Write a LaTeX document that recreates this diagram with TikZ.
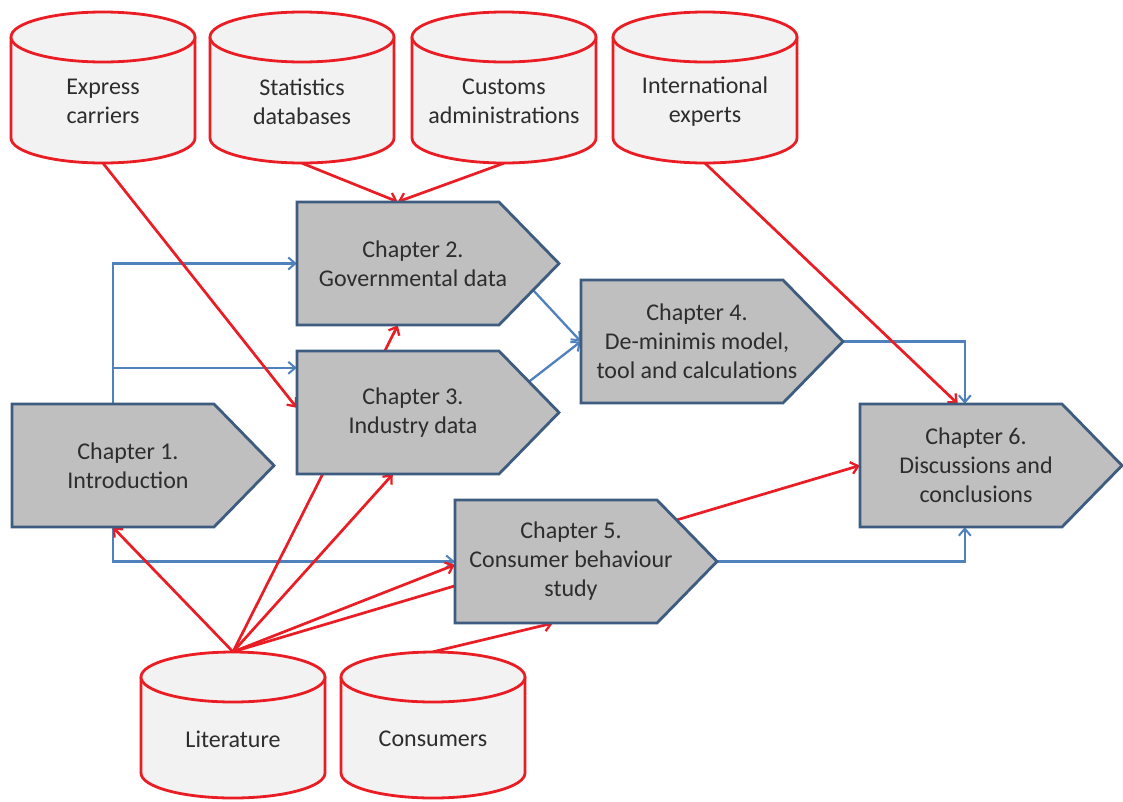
\documentclass[tikz,border=0pt]{standalone}
\usepackage{fontspec}
\setmainfont{Carlito}
\usetikzlibrary{arrows.meta,calc}
\definecolor{redline}{RGB}{234,28,36}
\definecolor{blueline}{RGB}{79,129,189}
\definecolor{chapborder}{RGB}{62,92,128}
\definecolor{chapfill}{RGB}{191,191,191}
\definecolor{cylfillc}{RGB}{242,242,242}
\definecolor{txt}{RGB}{45,45,45}
\tikzset{
  redarrow/.style={draw=redline, line width=2.7pt, -{Straight Barb[length=7pt,width=12pt,line width=2.3pt]}},
  bluearrow/.style={draw=blueline, line width=2.3pt, -{Straight Barb[length=7pt,width=12pt,line width=2pt]}},
  chapshape/.style={draw=chapborder, fill=chapfill, line width=2.8pt},
  chapbox/.style={inner sep=0pt, minimum width=262pt, minimum height=123pt, draw=none},
  chaptext/.style={align=center, text=txt, font=\fontsize{24}{29}\selectfont, inner sep=0pt},
  cylfill/.style={fill=cylfillc},
  cylline/.style={draw=redline, line width=2.8pt},
  cylbox/.style={inner sep=0pt, minimum width=184pt, draw=none},
  cyltext/.style={align=center, text=txt, font=\fontsize{24}{29}\selectfont, inner sep=0pt},
}
\newcommand\dbcyl[5]{%
  \fill[cylfill] (#2-92,#3+25) rectangle (#2+92,#3+#4-25);
  \fill[cylfill] (#2,#3+#4-25) ellipse [x radius=92pt, y radius=25pt];
  \draw[cylline] (#2-92,#3+25) -- (#2-92,#3+#4-25) arc[start angle=180,end angle=360,x radius=92pt,y radius=25pt] -- (#2+92,#3+25);
  \draw[cylline, fill=cylfillc] (#2,#3+25) ellipse [x radius=92pt, y radius=25pt];
  \node[cyltext] (#1) at (#2,#3+#4/2+14) {#5};
}
\begin{document}
\begin{tikzpicture}[x=1pt,y=-1pt]
\useasboundingbox (0,0) rectangle (1123,801);
\fill[white] (0,0) rectangle (1123,801);
% invisible anchor nodes (same geometry as chapters / cylinders)
\node[chapbox] (ch1) at (12+131,404+61.5) {};
\node[chapbox] (ch2) at (297+131,202+61.5) {};
\node[chapbox] (ch3) at (297+131,351+61.5) {};
\node[chapbox] (ch4) at (581+131,280+61.5) {};
\node[chapbox] (ch5) at (455+131,500+61.5) {};
\node[chapbox] (ch6) at (860+131,404+61.5) {};
\node[cylbox, minimum height=146pt] (lit) at (233,652+73) {};
\node[cylbox, minimum height=146pt] (con) at (433,652+73) {};
\node[cylbox, minimum height=151pt] (ec) at (103,12+75.5) {};
\node[cylbox, minimum height=151pt] (sd) at (302,12+75.5) {};
\node[cylbox, minimum height=151pt] (ca) at (504,12+75.5) {};
\node[cylbox, minimum height=151pt] (ie) at (705,12+75.5) {};
% blue connectors
\draw[bluearrow] ($(ch1.north west)+(101,0)$) |- (ch2.west);
\draw[bluearrow] ($(ch1.north west)+(101,0)$) |- ($(ch3.north west)+(0,17)$);
\draw[bluearrow] ($(ch1.south west)+(101,0)$) |- (ch5.west);
\draw[bluearrow] ($(ch2.north west)+(236,88)$) -- (ch4.west);
\draw[bluearrow] ($(ch3.north west)+(232,31)$) -- (ch4.west);
\draw[bluearrow] (ch4.east) -| ($(ch6.north west)+(105,0)$);
\draw[bluearrow] (ch5.east) -| ($(ch6.south west)+(105,0)$);
% red connectors
\draw[redarrow] (ec.south) -- ($(ch3.north west)+(0,57)$);
\draw[redarrow] (sd.south) -- ($(ch2.north west)+(101,0)$);
\draw[redarrow] (ca.south) -- ($(ch2.north west)+(101,0)$);
\draw[redarrow] (ie.south) -- ($(ch6.north west)+(98,0)$);
\draw[redarrow] (lit.north) -- ($(ch1.south west)+(101,0)$);
\draw[redarrow] (lit.north) -- ($(ch2.south west)+(101,0)$);
\draw[redarrow] (lit.north) -- ($(ch3.south west)+(96,0)$);
\draw[redarrow] (lit.north) -- ($(ch5.north west)+(0,65)$);
\draw[redarrow] (lit.north) -- (ch6.west);
\draw[redarrow] (con.north) -- ($(ch5.south west)+(98,0)$);
% chapter shapes
\filldraw[chapshape] (12,404) -- ++(202,0) -- ++(60,61.5) -- ++(-60,61.5) -- ++(-202,0) -- cycle;
\node[chaptext] (ch1-t) at (12+116,404+61.5) {Chapter 1.\\Introduction};
\filldraw[chapshape] (297,202) -- ++(202,0) -- ++(60,61.5) -- ++(-60,61.5) -- ++(-202,0) -- cycle;
\node[chaptext] (ch2-t) at (297+116,202+61.5) {Chapter 2.\\Governmental data};
\filldraw[chapshape] (297,351) -- ++(202,0) -- ++(60,61.5) -- ++(-60,61.5) -- ++(-202,0) -- cycle;
\node[chaptext] (ch3-t) at (297+116,351+61.5) {Chapter 3.\\Industry data};
\filldraw[chapshape] (581,280) -- ++(202,0) -- ++(60,61.5) -- ++(-60,61.5) -- ++(-202,0) -- cycle;
\node[chaptext] (ch4-t) at (581+116,280+61.5) {Chapter 4.\\De-minimis model,\\tool and calculations};
\filldraw[chapshape] (455,500) -- ++(202,0) -- ++(60,61.5) -- ++(-60,61.5) -- ++(-202,0) -- cycle;
\node[chaptext] (ch5-t) at (455+116,500+61.5) {Chapter 5.\\Consumer behaviour\\study};
\filldraw[chapshape] (860,404) -- ++(202,0) -- ++(60,61.5) -- ++(-60,61.5) -- ++(-202,0) -- cycle;
\node[chaptext] (ch6-t) at (860+116,404+61.5) {Chapter 6.\\Discussions and\\conclusions};
% cylinders
\dbcyl{ec-t}{103}{12}{151}{Express\\carriers}
\dbcyl{sd-t}{302}{12}{151}{Statistics\\databases}
\dbcyl{ca-t}{504}{12}{151}{Customs\\administrations}
\dbcyl{ie-t}{705}{12}{151}{International\\experts}
\dbcyl{lit-t}{233}{652}{146}{Literature}
\dbcyl{con-t}{433}{652}{146}{Consumers}
\end{tikzpicture}
\end{document}
